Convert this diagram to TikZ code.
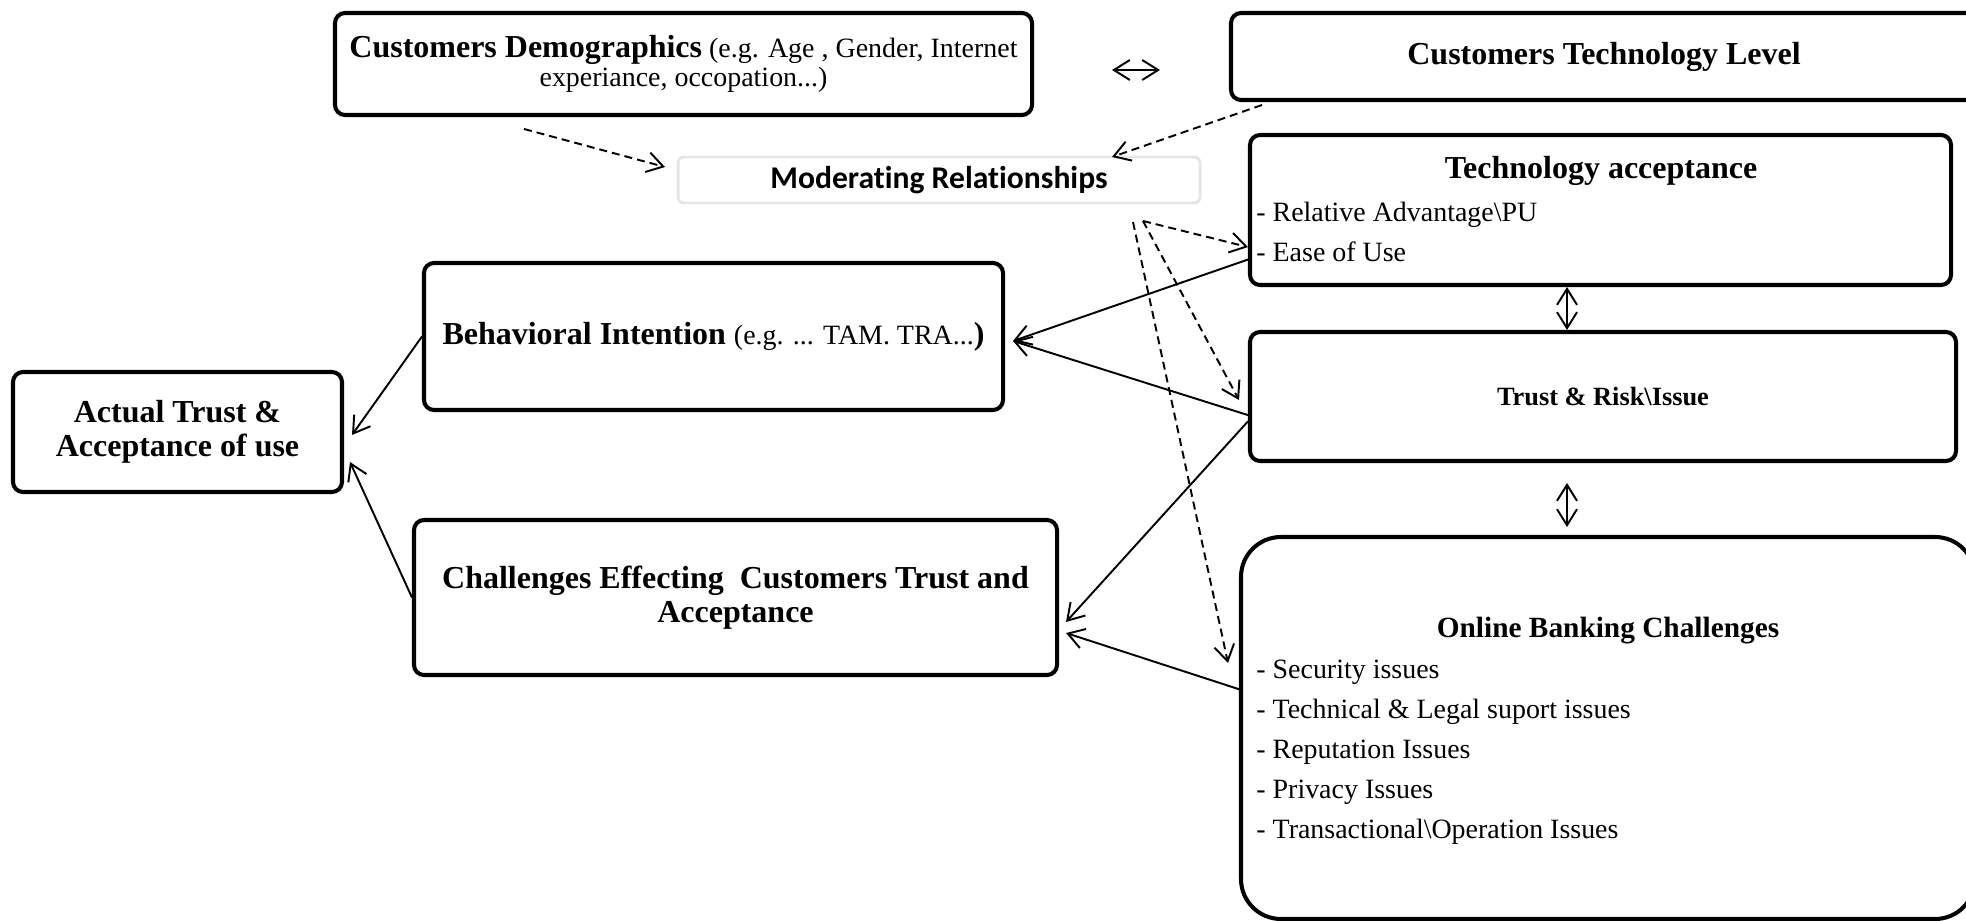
\documentclass[tikz,border=0pt]{standalone}
\usepackage{fontspec}
\setmainfont{Liberation Serif}
\newfontfamily\modfont[Ligatures=NoCommon]{Carlito}
\usetikzlibrary{arrows.meta}

\tikzset{
  box/.style={draw, line width=2.3pt, rounded corners=2mm, inner sep=0pt, align=center},
  big/.style={font=\fontsize{18.2}{19}\selectfont\bfseries},
  itemtext/.style={font=\fontsize{15.9}{22.8}\selectfont, inner sep=0pt, align=left, anchor=west},
  conn/.style={line width=1.1pt, -{Straight Barb[length=3.2mm,width=4mm]}},
  modline/.style={conn, dash pattern=on 1.6mm off 1mm},
  twoway/.style={line width=1.1pt, {Straight Barb[length=3.2mm,width=4mm]}-{Straight Barb[length=3.2mm,width=4mm]}}
}

\begin{document}
\begin{tikzpicture}[x=0.2mm, y=-0.2mm]
\useasboundingbox (0,0) rectangle (1966,921);

\node [box, minimum width=139.4mm, minimum height=20.4mm, font=\fontsize{15.9}{16.5}\selectfont] (dem) at (683.5,64) {{\fontsize{18.2}{16.5}\selectfont\bfseries Customers Demographics} (e.g. Age , Gender, Internet\\experiance, occopation...)};
\node [box, big, minimum width=149.2mm, minimum height=17.4mm] (tlev) at (1604,56.5) {Customers Technology Level};
\node [box, draw=black!10, line width=1.7pt, rounded corners=1.2mm, minimum width=104.4mm, minimum height=9.2mm, font=\modfont\bfseries\fontsize{18}{20}\selectfont] (mod) at (939,180) {Moderating Relationships};

\node [box, minimum width=140.2mm, minimum height=30mm] (tacc) at (1600.5,210) {};
\node [big] (tacct) at (1601,171) {Technology acceptance};
\node [itemtext] (tacci) at (1256,232) {- Relative Advantage\textbackslash PU\\- Ease of Use};

\node [box, minimum width=141.2mm, minimum height=25.8mm, font=\fontsize{15}{17}\selectfont\bfseries] (trust) at (1603,396.5) {Trust \& Risk\textbackslash Issue};

\node [box, rounded corners=8mm, minimum width=146.8mm, minimum height=76.4mm] (online) at (1608,728) {};
\node [font=\fontsize{16.7}{18}\selectfont\bfseries] (onlinet) at (1608,631) {Online Banking Challenges};
\node [itemtext] (onlinei) at (1256,752) {- Security issues\\- Technical \& Legal suport issues\\- Reputation Issues\\- Privacy Issues\\- Transactional\textbackslash Operation Issues};

\node [box, big, minimum width=115.8mm, minimum height=29.4mm] (beh) at (713.5,336.5) {Behavioral Intention {\mdseries\fontsize{15.9}{19}\selectfont(e.g. ... TAM. TRA...}{)}};
\node [box, big, minimum width=65.8mm, minimum height=24mm] (act) at (177.5,432) {Actual Trust \&\\Acceptance of use};
\node [box, big, minimum width=128.6mm, minimum height=31mm] (chal) at (735.5,597.5) {Challenges Effecting\ \ Customers Trust and\\Acceptance};

\coordinate (d1) at (524,129);
\coordinate (d2) at (665,167);
\coordinate (l1) at (1262,105);
\coordinate (l2) at (1112,157);
\coordinate (m1) at (1133,222);
\coordinate (m2) at (1143,221);
\coordinate (t1) at (1239,400);
\coordinate (o1) at (1228,663);
\coordinate (bi) at (1013,341);
\coordinate (ci1) at (1066,622);
\coordinate (ci2) at (1066,633);
\coordinate (ai1) at (352,435);
\coordinate (ai2) at (350,462);
\coordinate (h1) at (1112,70);
\coordinate (h2) at (1160,70);
\coordinate (vx) at (1567,0);
\coordinate (v1) at (1567,483);
\coordinate (v2) at (1567,527);

\draw [modline] (d1) -- (d2);
\draw [modline] (l1) -- (l2);
\draw [modline] (m2) -- (tacc.186.3);
\draw [modline] (m2) -- (t1);
\draw [modline] (m1) -- (o1);

\draw [conn] (tacc.188.3) -- (bi);
\draw [conn] (trust.183.5) -- (bi);
\draw [conn] (trust.184.1) -- (ci1);
\draw [conn] (online.174.4) -- (ci2);
\draw [conn] (beh.west) -- (ai1);
\draw [conn] (chal.west) -- (ai2);

\draw [twoway] (h1) -- (h2);
\draw [twoway] (tacc.south -| vx) -- (trust.north -| vx);
\draw [twoway] (v1) -- (v2);
\end{tikzpicture}
\end{document}
